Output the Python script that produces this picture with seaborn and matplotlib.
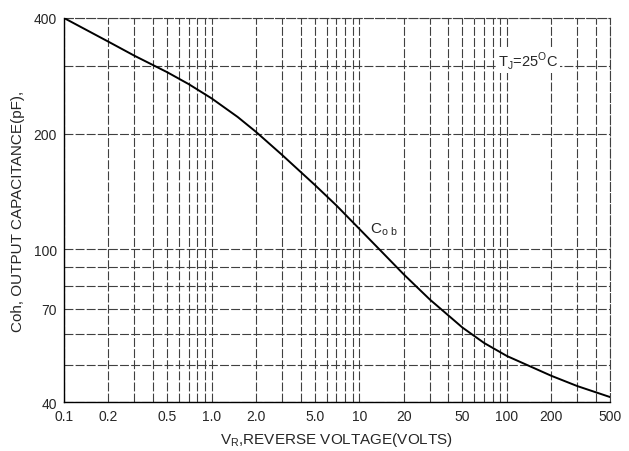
import numpy as np
import pandas as pd

import seaborn as sns
import matplotlib.pyplot as plt
from matplotlib.ticker import NullFormatter

sns.set_style('white')
plt.rcParams['font.family'] = ['Liberation Sans', 'DejaVu Sans']

# curve
voltage = [0.1, 0.2, 0.3, 0.5, 0.7, 1.0, 1.5, 2.0, 3.0, 5.0, 7.0,
           10, 14, 20, 30, 50, 70, 100, 200, 300, 500]
capacitance = [400, 347, 319, 289, 269, 247, 221, 202, 176, 147, 130,
               113, 99, 86, 74, 62.5, 57, 52.7, 46.8, 44.0, 41.2]

x_ticks = [0.1, 0.2, 0.5, 1.0, 2.0, 5.0, 10, 20, 50, 100, 200, 500]
x_labels = ['0.1', '0.2', '0.5', '1.0', '2.0', '5.0', '10', '20', '50', '100', '200', '500']
x_grid = [0.1, 0.2, 0.3, 0.4, 0.5, 0.6, 0.7, 0.8, 0.9,
          1, 2, 3, 4, 5, 6, 7, 8, 9,
          10, 20, 30, 40, 50, 60, 70, 80, 90,
          100, 200, 300, 400, 500]
y_ticks = [40, 70, 100, 200, 400]
y_labels = ['40', '70', '100', '200', '400']
y_grid = [40, 50, 60, 70, 80, 90, 100, 200, 300, 400]

df = pd.DataFrame({'vr': voltage, 'cob': capacitance})

fig = plt.figure(figsize=(6.29, 4.52), dpi=100)
ax = fig.add_axes([0.1017, 0.1084, 0.8683, 0.8496])

ax.set_xscale('log')
ax.set_yscale('log')

# scanned-looking grid
for gx in x_grid:
    ax.axvline(gx, color='0.25', lw=0.8, ls=(0, (8, 2)), zorder=1)
for gy in y_grid:
    ax.axhline(gy, color='0.25', lw=0.8, ls=(0, (8, 2)), zorder=1)

sns.lineplot(data=df, x='vr', y='cob', color='black', linewidth=1.4, ax=ax, zorder=3)

ax.set_xlim(0.1, 500)
ax.set_ylim(40, 400)

ax.set_xticks(x_ticks)
ax.set_xticklabels(x_labels)
ax.set_yticks(y_ticks)
ax.set_yticklabels(y_labels)
ax.minorticks_off()
ax.xaxis.set_minor_formatter(NullFormatter())
ax.yaxis.set_minor_formatter(NullFormatter())
ax.tick_params(length=0, labelsize=10, pad=5)

ax.set_xlabel('V$_\\mathregular{R}$,REVERSE VOLTAGE(VOLTS)', fontsize=11, labelpad=5)
ax.set_ylabel('Coh, OUTPUT CAPACITANCE(pF),', fontsize=11, labelpad=6)

for side in ['left', 'bottom']:
    ax.spines[side].set_color('black')
    ax.spines[side].set_linewidth(1.0)
for side in ['top', 'right']:
    ax.spines[side].set_color('0.25')
    ax.spines[side].set_linewidth(0.8)
    ax.spines[side].set_linestyle((0, (8, 2)))

ax.text(140, 310, 'T$_\\mathregular{J}$=25$^\\mathregular{O}$C', fontsize=10.5,
        ha='center', va='center', zorder=4,
        bbox=dict(facecolor='white', edgecolor='none', pad=1))
ax.text(11.8, 113, 'C$_\\mathregular{o\\ b}$', fontsize=11, ha='left', va='center', zorder=4)

plt.savefig('out.png', dpi=100)
